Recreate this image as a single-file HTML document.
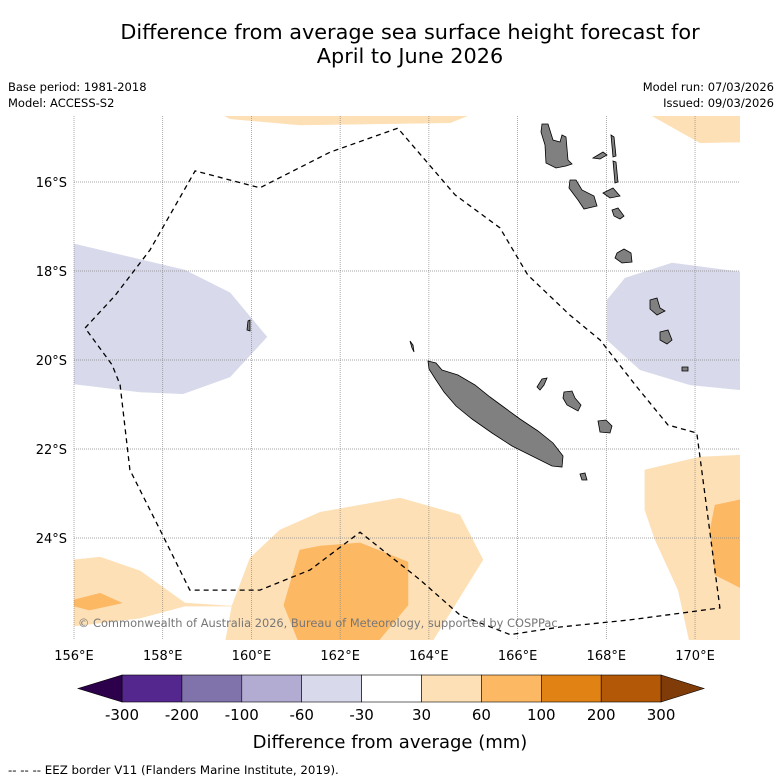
<!DOCTYPE html>
<html><head><meta charset="utf-8"><style>
body{margin:0;background:#fff;}
svg{display:block;font-family:"DejaVu Sans","Liberation Sans",sans-serif;}
</style></head><body>
<svg id="fig" width="781" height="781" viewBox="0 0 781 781">
<text x="410" y="39" text-anchor="middle" font-size="20.8">Difference from average sea surface height forecast for</text>
<text x="410" y="63" text-anchor="middle" font-size="20.8">April to June 2026</text>
<text x="8" y="91" font-size="11.5">Base period: 1981-2018</text>
<text x="8" y="107" font-size="11.5">Model: ACCESS-S2</text>
<text x="774" y="91" font-size="11.5" text-anchor="end">Model run: 07/03/2026</text>
<text x="774" y="107" font-size="11.5" text-anchor="end">Issued: 09/03/2026</text>
<defs><clipPath id="mapclip"><rect x="74" y="116" width="666" height="524"/></clipPath></defs>
<g id="map" clip-path="url(#mapclip)"></g>
<g id="grid"></g>
<g id="islands" fill="#808080" stroke="#000" stroke-width="0.8">
<path d="M542,124 L548,124 L553,140 L560,142 L562,135 L566,137 L568,160 L572,164 L566,166 L556,168 L546,163 L545,145 L541,132Z"/>
<path d="M570,180 L576,180 L582,190 L594,196 L597,206 L584,209 L578,200 L569,188Z"/>
<path d="M593,158 L603,152 L607,155 L600,159Z"/>
<path d="M611,135 L614,137 L616,156 L613,157Z"/>
<path d="M613,161 L616,162 L618,182 L615,183Z"/>
<path d="M603,193 L613,188 L620,196 L610,198Z"/>
<path d="M612,210 L618,208 L624,216 L620,219 L614,216Z"/>
<path d="M617,253 L624,249 L631,253 L632,262 L622,263 L615,258Z"/>
<path d="M650,300 L657,298 L660,308 L665,311 L657,315 L650,309Z"/>
<path d="M660,332 L668,330 L672,340 L667,344 L660,340Z"/>
<path d="M682,367 L688,367 L688,371 L682,371Z"/>
<path d="M410,341 L413,345 L414,352 L412,348Z"/>
<path d="M428,361 L436,363 L442,370 L458,375 L475,385 L490,397 L505,408 L520,419 L538,431 L553,443 L563,456 L562,467 L552,466 L532,456 L512,446 L492,433 L472,419 L456,406 L444,392 L436,380 L429,369Z"/>
<path d="M537,387 L542,379 L547,378 L544,385 L540,390Z"/>
<path d="M564,392 L572,391 L575,398 L581,405 L578,411 L567,405 L563,398Z"/>
<path d="M598,421 L606,420 L612,426 L610,433 L600,432Z"/>
<path d="M580,474 L585,473 L587,480 L582,480Z"/>
<path d="M248,321 L250,320 L250,331 L247,330Z"/>
</g>
<g id="eez"></g>
<text x="78" y="627" font-size="11.4" fill="#777">© Commonwealth of Australia 2026, Bureau of Meteorology, supported by COSPPac</text>
<g id="ticks"></g>
<g id="cbar"></g>
<text x="390" y="748" text-anchor="middle" font-size="18">Difference from average (mm)</text>
<text x="8" y="774" font-size="11.8">-- -- -- EEZ border V11 (Flanders Marine Institute, 2019).</text>
</svg>
<script>
const lonTicks=[156,158,160,162,164,166,168,170];
const latTicks=[16,18,20,22,24];
const cbarBounds=[-300,-200,-100,-60,-30,30,60,100,200,300];
const cbarColors=["#54278f","#8073ac","#b2abd2","#d8daeb","#ffffff","#fee0b6","#fdb863","#e08214","#b35806"];
const cbarEnds=["#2d004b","#7f3b08"];
const regionBins=[3,3,5,5,5,5,6,5,6,6];
const regionLavenderWest=[[156,17.39],[158.5,17.98],[159.52,18.49],[160.35,19.48],[159.52,20.38],[158.46,20.76],[157.49,20.72],[156,20.54]];
const regionLavenderEast=[[171.01,18.02],[169.48,17.82],[168.42,18.16],[168.02,18.65],[168.02,19.55],[168.76,20.22],[169.89,20.56],[171.01,20.67]];
const regionPeachTop=[[159.18,14.4],[165.15,14.4],[164.48,14.67],[161.09,14.72],[159.52,14.58]];
const regionPeachTopRight=[[168.83,14.4],[171.2,14.4],[171.2,15.1],[170.11,15.12]];
const regionPeachSouthWest=[[156,24.49],[156.59,24.43],[157.49,24.74],[158.5,25.46],[159.56,25.53],[158.5,25.53],[157.49,25.8],[156,25.98]];
const regionPeachSouth=[[159.56,25.53],[159.97,24.45],[160.64,23.82],[161.55,23.42],[163.35,23.1],[164.7,23.48],[165.22,24.49],[164.03,26.4],[159.4,26.4]];
const regionOrangeSouthWest=[[156,25.39],[156.59,25.24],[157.08,25.46],[156.35,25.62],[156,25.53]];
const regionPeachEast=[[168.87,22.47],[170.11,22.18],[171.2,22.13],[171.2,26.4],[169.89,26.4],[169.62,25.17],[169.1,24.04],[168.87,23.37]];
const regionOrangeSouth=[[161.09,24.27],[161.55,24.18],[162.45,24.11],[163.53,24.54],[163.53,25.51],[162.79,26.4],[161.09,26.4],[160.73,25.51]];
const regionOrangeEast=[[170.45,23.26],[171.2,23.1],[171.2,25.21],[170.45,24.83],[170.34,23.82]];
const regions=[regionLavenderWest,regionLavenderEast,regionPeachTop,regionPeachTopRight,regionPeachSouthWest,regionPeachSouth,regionOrangeSouthWest,regionPeachEast,regionOrangeSouth,regionOrangeEast];
const regionNames=["lavender-west","lavender-east","peach-top","peach-top-right","peach-southwest","peach-south","orange-southwest","peach-east","orange-south","orange-east"];
const eezLine=[[156.25,19.28],[156.92,18.56],[157.71,17.53],[158.73,15.75],[160.19,16.13],[161.77,15.33],[163.3,14.79],[164.59,16.29],[165.6,17.03],[166.23,18.09],[167.18,18.99],[167.86,19.55],[168.65,20.56],[169.39,21.46],[170.04,21.64],[170.56,25.57],[169.89,25.66],[168.53,25.84],[166.96,26.0],[165.83,26.17],[164.7,25.73],[163.8,24.94],[162.45,23.87],[161.32,24.72],[160.19,25.17],[158.61,25.17],[157.94,23.82],[157.26,22.47],[157.04,20.56],[156.86,20.11],[156.25,19.28]];

const NS="http://www.w3.org/2000/svg";
const X=lon=>74+(lon-156)*44.36;
const Y=lat=>182+(lat-16)*44.5;
function mk(tag,attrs,parent){const e=document.createElementNS(NS,tag);for(const k in attrs)e.setAttribute(k,attrs[k]);parent.appendChild(e);return e;}
const pts=a=>a.map(p=>X(p[0]).toFixed(1)+","+Y(p[1]).toFixed(1)).join(" ");

const map=document.getElementById("map");
regions.forEach((r,i)=>{
  const p=mk("polygon",{points:pts(r),fill:cbarColors[regionBins[i]],stroke:cbarColors[regionBins[i]],"stroke-width":"0.5"},map);
  
  
});
const grid=document.getElementById("grid");
const ticks=document.getElementById("ticks");
lonTicks.forEach(l=>{
  const g=mk("line",{x1:X(l),x2:X(l),y1:116,y2:640,stroke:"#888","stroke-width":"0.7","stroke-dasharray":"1,1"},grid);
  
  
  const t=mk("text",{x:X(l),y:660,"text-anchor":"middle","font-size":"13"},ticks);
  t.textContent=l+"°E";
  
  
});
latTicks.forEach(l=>{
  const g=mk("line",{x1:74,x2:740,y1:Y(l),y2:Y(l),stroke:"#888","stroke-width":"0.7","stroke-dasharray":"1,1"},grid);
  
  
  const t=mk("text",{x:67,y:Y(l)+5,"text-anchor":"end","font-size":"13"},ticks);
  t.textContent=l+"°S";
  
  
});
const eez=mk("polyline",{points:pts(eezLine),fill:"none",stroke:"#000","stroke-width":"1.3","stroke-dasharray":"5,4"},document.getElementById("eez"));



const cb=document.getElementById("cbar");
const cx0=122,cw=59.9,cy=675,ch=27;
cbarColors.forEach((c,i)=>{
  const r=mk("rect",{x:cx0+i*cw,y:cy,width:cw,height:ch,fill:c,stroke:"#000","stroke-width":"0.6"},cb);
  
  
});
const cx1=cx0+cbarColors.length*cw;
const l=mk("polygon",{points:`${cx0},${cy} ${cx0},${cy+ch} 78,${cy+ch/2}`,fill:cbarEnds[0],stroke:"#000","stroke-width":"0.6"},cb);


const r=mk("polygon",{points:`${cx1},${cy} ${cx1},${cy+ch} 704,${cy+ch/2}`,fill:cbarEnds[1],stroke:"#000","stroke-width":"0.6"},cb);


cbarBounds.forEach((v,i)=>{
  const t=mk("text",{x:cx0+i*cw,y:720,"text-anchor":"middle","font-size":"15"},cb);
  t.textContent=v;
  
  
});
</script>
</body></html>
